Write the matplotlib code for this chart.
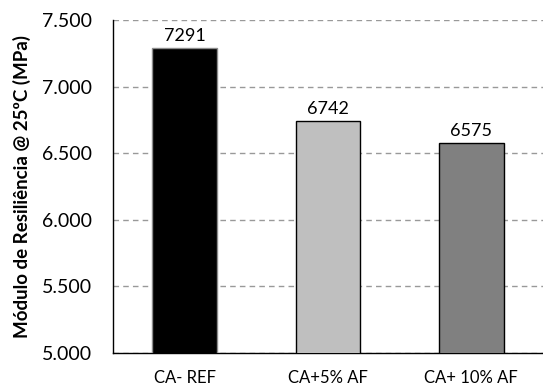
import matplotlib
matplotlib.use("Agg")
import matplotlib.pyplot as plt
from matplotlib.ticker import FuncFormatter

categories = ["CA- REF", "CA+5% AF", "CA+ 10% AF"]
values = [7291, 6742, 6575]
bar_colors = ["#000000", "#BFBFBF", "#808080"]
edge_colors = ["#8C8C8C", "#000000", "#000000"]
y_ticks = [5000, 5500, 6000, 6500, 7000, 7500]

plt.rcParams["font.family"] = ["Lato", "DejaVu Sans"]

fig = plt.figure(figsize=(5.43, 3.92), dpi=100)
ax = fig.add_axes([0.208, 0.0995, 0.792, 0.8495])

x = range(len(categories))
bars = ax.bar(x, values, width=0.45, color=bar_colors, edgecolor=edge_colors,
              linewidth=1.0, zorder=3)

for xi, v in zip(x, values):
    ax.annotate(f"{v}", (xi, v), xytext=(0, 3), textcoords="offset points",
                ha="center", va="bottom", fontsize=13, color="#000000")

ax.set_xlim(-0.5, 2.5)
ax.set_ylim(5000, 7500)
ax.set_yticks(y_ticks)
ax.yaxis.set_major_formatter(
    FuncFormatter(lambda v, p: f"{int(v):,}".replace(",", ".")))
ax.set_xticks(list(x))
ax.set_xticklabels(categories)

ax.tick_params(axis="y", length=0, pad=15, labelsize=14)
ax.tick_params(axis="x", length=0, pad=12, labelsize=12)

ax.grid(axis="y", linestyle=(0, (4, 3)), color="#999999", linewidth=1.0, zorder=0)

for side in ("top", "right"):
    ax.spines[side].set_visible(False)
ax.spines["left"].set_color("#000000")
ax.spines["bottom"].set_color("#000000")
ax.spines["left"].set_linewidth(1.0)
ax.spines["bottom"].set_linewidth(1.0)

ax.set_ylabel("Módulo de Resiliência @ 25ºC (MPa)", fontsize=13.5, fontweight="bold")
ax.yaxis.set_label_coords(-0.19, 0.5)

fig.savefig("out.png", dpi=100)
